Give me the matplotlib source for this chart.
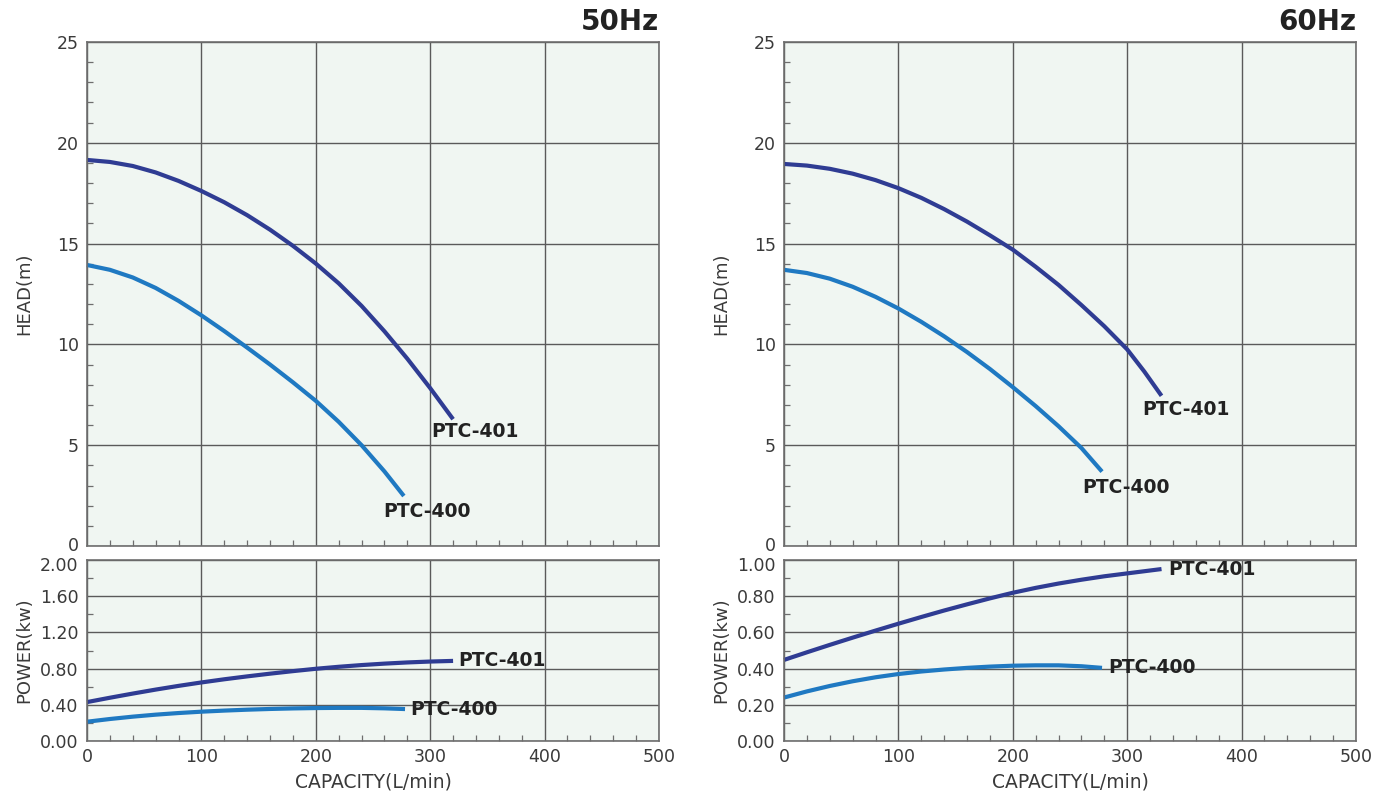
import matplotlib
matplotlib.use("Agg")
import matplotlib.pyplot as plt
from matplotlib.ticker import MultipleLocator, FormatStrFormatter
from matplotlib.transforms import ScaledTranslation

# ---------------- data ----------------
capacity_ticks = [0, 100, 200, 300, 400, 500]

# 50 Hz head curves
q50_401 = [0, 20, 40, 60, 80, 100, 120, 140, 160, 180, 200, 220, 240, 260, 280, 300, 320]
h50_401 = [19.15, 19.05, 18.85, 18.53, 18.11, 17.61, 17.05, 16.41, 15.69, 14.89, 14.01,
           13.03, 11.91, 10.65, 9.29, 7.83, 6.29]
q50_400 = [0, 20, 40, 60, 80, 100, 120, 140, 160, 180, 200, 220, 240, 260, 277]
h50_400 = [13.94, 13.70, 13.32, 12.80, 12.16, 11.44, 10.66, 9.84, 9.0, 8.12, 7.2, 6.16,
           5.0, 3.70, 2.48]

# 50 Hz power curves
pq50_401 = [0, 20, 40, 60, 80, 100, 120, 140, 160, 180, 200, 220, 240, 260, 280, 300, 320]
p50_401 = [0.43, 0.478, 0.524, 0.568, 0.609, 0.647, 0.682, 0.714, 0.744, 0.772, 0.798,
           0.82, 0.839, 0.855, 0.868, 0.878, 0.885]
pq50_400 = [0, 20, 40, 60, 80, 100, 120, 140, 160, 180, 200, 220, 240, 260, 278]
p50_400 = [0.213, 0.243, 0.269, 0.291, 0.309, 0.324, 0.336, 0.346, 0.354, 0.360, 0.364,
           0.366, 0.366, 0.361, 0.353]

# 60 Hz head curves
q60_401 = [0, 20, 40, 60, 80, 100, 120, 140, 160, 180, 200, 220, 240, 260, 280, 300, 315, 330]
h60_401 = [18.95, 18.87, 18.71, 18.47, 18.15, 17.75, 17.27, 16.71, 16.09, 15.41, 14.70,
           13.85, 12.95, 11.95, 10.9, 9.75, 8.65, 7.45]
q60_400 = [0, 20, 40, 60, 80, 100, 120, 140, 160, 180, 200, 220, 240, 260, 278]
h60_400 = [13.7, 13.54, 13.26, 12.86, 12.36, 11.78, 11.12, 10.40, 9.62, 8.78, 7.88, 6.94,
           5.94, 4.86, 3.69]

# 60 Hz power curves
pq60_401 = [0, 20, 40, 60, 80, 100, 120, 140, 160, 180, 200, 220, 240, 260, 280, 300, 330]
p60_401 = [0.448, 0.490, 0.531, 0.571, 0.610, 0.648, 0.685, 0.721, 0.755, 0.788, 0.819,
           0.846, 0.870, 0.891, 0.910, 0.926, 0.950]
pq60_400 = [0, 20, 40, 60, 80, 100, 120, 140, 160, 180, 200, 220, 240, 260, 278]
p60_400 = [0.24, 0.274, 0.304, 0.330, 0.352, 0.370, 0.384, 0.395, 0.404, 0.411, 0.416,
           0.418, 0.418, 0.413, 0.404]

models = ["PTC-401", "PTC-400"]
titles = ["50Hz", "60Hz"]

# ---------------- style ----------------
DARK = "#2f3c93"
LIGHT = "#1f79c2"
BG = "#f0f6f2"
GRID = "#5a5a5a"
SPINE = "#6e6e6e"
TXT = "#3a3a3a"
LW = 3.0

plt.rcParams['font.family'] = ['DejaVu Sans']

fig = plt.figure(figsize=(13.77, 7.97), dpi=100)
W, H = 1377.0, 797.0


def ax_rect(x0, x1, ytop, ybot):
    return [x0 / W, 1 - ybot / H, (x1 - x0) / W, (ybot - ytop) / H]


def style_axes(ax, ymax, ymajor, yminor, fmt, show_x):
    ax.set_facecolor(BG)
    ax.set_xlim(0, 500)
    ax.set_ylim(0, ymax)
    ax.set_xticks(capacity_ticks)
    ax.xaxis.set_minor_locator(MultipleLocator(20))
    ax.yaxis.set_major_locator(MultipleLocator(ymajor))
    ax.yaxis.set_minor_locator(MultipleLocator(yminor))
    ax.yaxis.set_major_formatter(FormatStrFormatter(fmt))
    ax.grid(True, which='major', color=GRID, linewidth=1.0)
    ax.set_axisbelow(True)
    for s in ax.spines.values():
        s.set_color(SPINE)
        s.set_linewidth(1.2)
    ax.tick_params(which='both', direction='in', colors=SPINE, top=False, right=False,
                   labelcolor=TXT, labelsize=12.5)
    ax.tick_params(which='major', length=0, pad=6)
    ax.tick_params(which='minor', length=4.5, width=0.9)
    if not show_x:
        ax.tick_params(axis='x', labelbottom=False)
    else:
        ax.tick_params(axis='x', pad=5)


panels = [
    dict(x0=87, x1=659, pmax=2.0, pmajor=0.4, pminor=0.2,
         head=[(q50_401, h50_401), (q50_400, h50_400)],
         power=[(pq50_401, p50_401), (pq50_400, p50_400)],
         head_off=[(-16, -9), (-15, -11)], pow_off=[(4, 0), (4, 0)]),
    dict(x0=784, x1=1356, pmax=1.0, pmajor=0.2, pminor=0.1,
         head=[(q60_401, h60_401), (q60_400, h60_400)],
         power=[(pq60_401, p60_401), (pq60_400, p60_400)],
         head_off=[(-14, -10), (-14, -11.5)], pow_off=[(4.5, 0), (4.5, 0)]),
]

colors = [DARK, LIGHT]

for i, pnl in enumerate(panels):
    axh = fig.add_axes(ax_rect(pnl['x0'], pnl['x1'], 42, 546))
    axp = fig.add_axes(ax_rect(pnl['x0'], pnl['x1'], 560, 741))
    style_axes(axh, 25, 5, 1, '%d', False)
    style_axes(axp, pnl['pmax'], pnl['pmajor'], pnl['pminor'], '%.2f', True)

    for (q, h), c, name, off in zip(pnl['head'], colors, models, pnl['head_off']):
        axh.plot(q, h, color=c, lw=LW, solid_capstyle='butt', solid_joinstyle='round',
                 clip_on=False)
        axh.annotate(name, xy=(q[-1], h[-1]), xytext=off, textcoords='offset points',
                     ha='left', va='center', fontsize=13.5, fontweight='bold', color='#222222')
    for (q, p), c, name, off in zip(pnl['power'], colors, models, pnl['pow_off']):
        axp.plot(q, p, color=c, lw=LW, solid_capstyle='butt', solid_joinstyle='round',
                 clip_on=False)
        axp.annotate(name, xy=(q[-1], p[-1]), xytext=off, textcoords='offset points',
                     ha='left', va='center', fontsize=13.5, fontweight='bold', color='#222222')

    axh.text(1.0, 1.012, titles[i], transform=axh.transAxes, ha='right', va='bottom',
             fontsize=20, fontweight='bold', color='#222222')
    axh.set_ylabel('HEAD(m)', fontsize=13, color=TXT)
    axp.set_ylabel('POWER(kw)', fontsize=13, color=TXT)
    axp.set_xlabel('CAPACITY(L/min)', fontsize=13.5, color=TXT, labelpad=5)
    axh.yaxis.set_label_coords(-0.094, 0.5)
    axp.yaxis.set_label_coords(-0.094, 0.5)

    # nudge the top power label and the bottom head label apart, as in the reference
    fig.canvas.draw()
    top_lbl = axp.get_yticklabels()
    top_lbl = [t for t in top_lbl if t.get_text() in ('2.00', '1.00')]
    for t in top_lbl:
        t.set_transform(t.get_transform() + ScaledTranslation(0, -3 / 72, fig.dpi_scale_trans))
    bot_lbl = [t for t in axh.get_yticklabels() if t.get_text() == '0']
    for t in bot_lbl:
        t.set_transform(t.get_transform() + ScaledTranslation(0, 1.5 / 72, fig.dpi_scale_trans))

fig.savefig('out.png', dpi=100, facecolor='white')
